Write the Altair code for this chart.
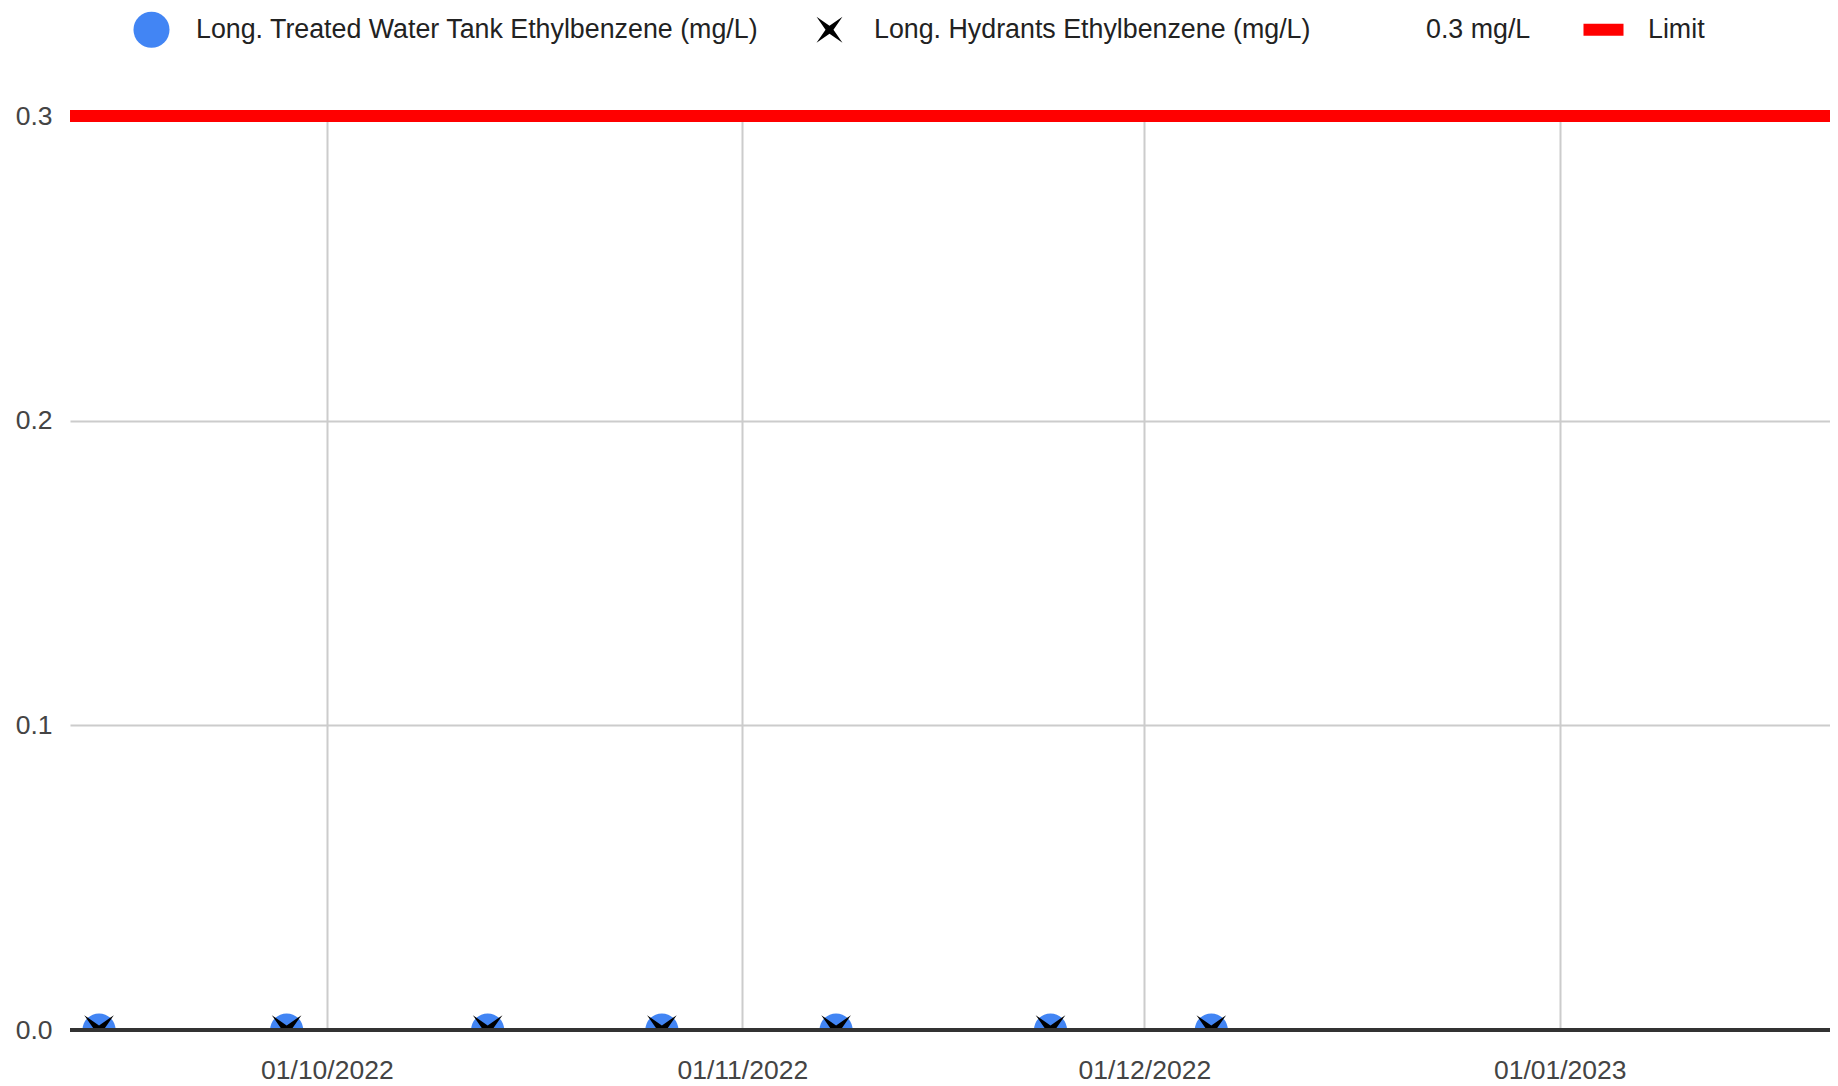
import altair as alt
import pandas as pd

# ---- data ----
tank_dates = ["2022-09-14", "2022-09-28", "2022-10-13", "2022-10-26",
              "2022-11-08", "2022-11-24", "2022-12-06"]
tank_values = [0, 0, 0, 0, 0, 0, 0]

hydrant_dates = ["2022-09-14", "2022-09-28", "2022-10-13", "2022-10-26",
                 "2022-11-08", "2022-11-24", "2022-12-06"]
hydrant_values = [0, 0, 0, 0, 0, 0, 0]

limit_dates = ["2022-09-11T20:00:00Z", "2023-01-21T04:00:00Z"]
limit_values = [0.3, 0.3]

legend_labels = ["Long. Treated Water Tank Ethylbenzene (mg/L)",
                 "Long. Hydrants Ethylbenzene (mg/L)",
                 "0.3 mg/L",
                 "Limit"]
legend_colors = ["#4285f4", "#000000", "transparent", "#ff0000"]

x_tick_dates = ["2022-10-01", "2022-11-01", "2022-12-01", "2023-01-01"]
y_ticks = [0.0, 0.1, 0.2, 0.3]

# ---- styles ----
FONT = "Liberation Sans"
# extra move-tos give every legend symbol the same bounding box as the circle
BOX = "M-1,-1M1,1"
X_PATH = BOX + "M-0.72,-0.72L0,-0.22L0.72,-0.72L0.22,0L0.72,0.72L0,0.22L-0.72,0.72L-0.22,0Z"
RECT_PATH = BOX + "M-1.11,-0.33L1.11,-0.33L1.11,0.33L-1.11,0.33Z"
legend_shapes = ["circle", X_PATH, "circle", RECT_PATH]


def to_dt(s):
    t = pd.Timestamp(s)
    return alt.DateTime(year=t.year, month=t.month, date=t.day,
                        hours=t.hour, minutes=t.minute, utc=True)


tank_df = pd.DataFrame({"date": tank_dates, "value": tank_values})
hydrant_df = pd.DataFrame({"date": hydrant_dates, "value": hydrant_values})
limit_df = pd.DataFrame({"date": limit_dates, "value": limit_values})
legend_df = pd.DataFrame({"series": legend_labels})

x_enc = alt.X(
    "date:T",
    scale=alt.Scale(type="utc", domain=[to_dt(limit_dates[0]), to_dt(limit_dates[1])]),
    axis=alt.Axis(
        values=[to_dt(d) for d in x_tick_dates],
        format="%d/%m/%Y",
        title=None,
        domain=False,
        ticks=False,
        grid=True,
        gridColor="#cccccc",
        gridWidth=2,
        labelFont=FONT,
        labelFontSize=26.5,
        labelColor="#444444",
        labelPadding=27,
        labelFlush=False,
        labelOverlap=False,
    ),
)
y_enc = alt.Y(
    "value:Q",
    scale=alt.Scale(domain=[0, 0.3], nice=False, zero=True),
    axis=alt.Axis(
        values=y_ticks,
        format=".1f",
        title=None,
        domain=False,
        ticks=False,
        grid=True,
        gridColor="#cccccc",
        gridWidth=2,
        labelFont=FONT,
        labelFontSize=26.5,
        labelColor="#444444",
        labelPadding=18,
        labelFlush=False,
        labelOverlap=False,
    ),
)

legend = alt.Legend(
    title=None,
    orient="none",
    legendX=63,
    legendY=-105,
    direction="horizontal",
    columns=4,
    symbolSize=1300,
    symbolOpacity=1,
    symbolStrokeWidth=0,
    labelFont=FONT,
    labelFontSize=26.8,
    labelColor="#222222",
    labelLimit=1000,
    labelOffset=26,
    columnPadding=52,
    padding=0,
)

legend_layer = alt.Chart(legend_df).mark_point(filled=True, opacity=0).encode(
    color=alt.Color("series:N", scale=alt.Scale(domain=legend_labels, range=legend_colors),
                    legend=legend, sort=legend_labels),
    shape=alt.Shape("series:N", scale=alt.Scale(domain=legend_labels, range=legend_shapes),
                    legend=legend, sort=legend_labels),
)

limit_layer = alt.Chart(limit_df).mark_line(
    color="#ff0000", strokeWidth=12, strokeCap="butt"
).encode(x=x_enc, y=y_enc)

tank_layer = alt.Chart(tank_df).mark_point(
    filled=True, shape="circle", size=1100, color="#4285f4", opacity=1, clip=True
).encode(x=x_enc, y=y_enc)

hydrant_layer = alt.Chart(hydrant_df).mark_point(
    filled=True, shape=X_PATH, size=1700, color="#000000", opacity=1, clip=True
).encode(x=x_enc, y=y_enc)

baseline = alt.Chart(tank_df).mark_rule(color="#333333", strokeWidth=3).encode(
    y=alt.datum(0, type="quantitative")
)

chart = alt.layer(
    limit_layer, tank_layer, hydrant_layer, baseline, legend_layer
).properties(
    width=1760,
    height=914,
    autosize="none",
    padding={"left": 62, "top": 108, "right": 0, "bottom": 54},
    background="white",
).configure_view(stroke=None)

chart.save("out.html", embed_options={"renderer": "svg", "actions": False})
